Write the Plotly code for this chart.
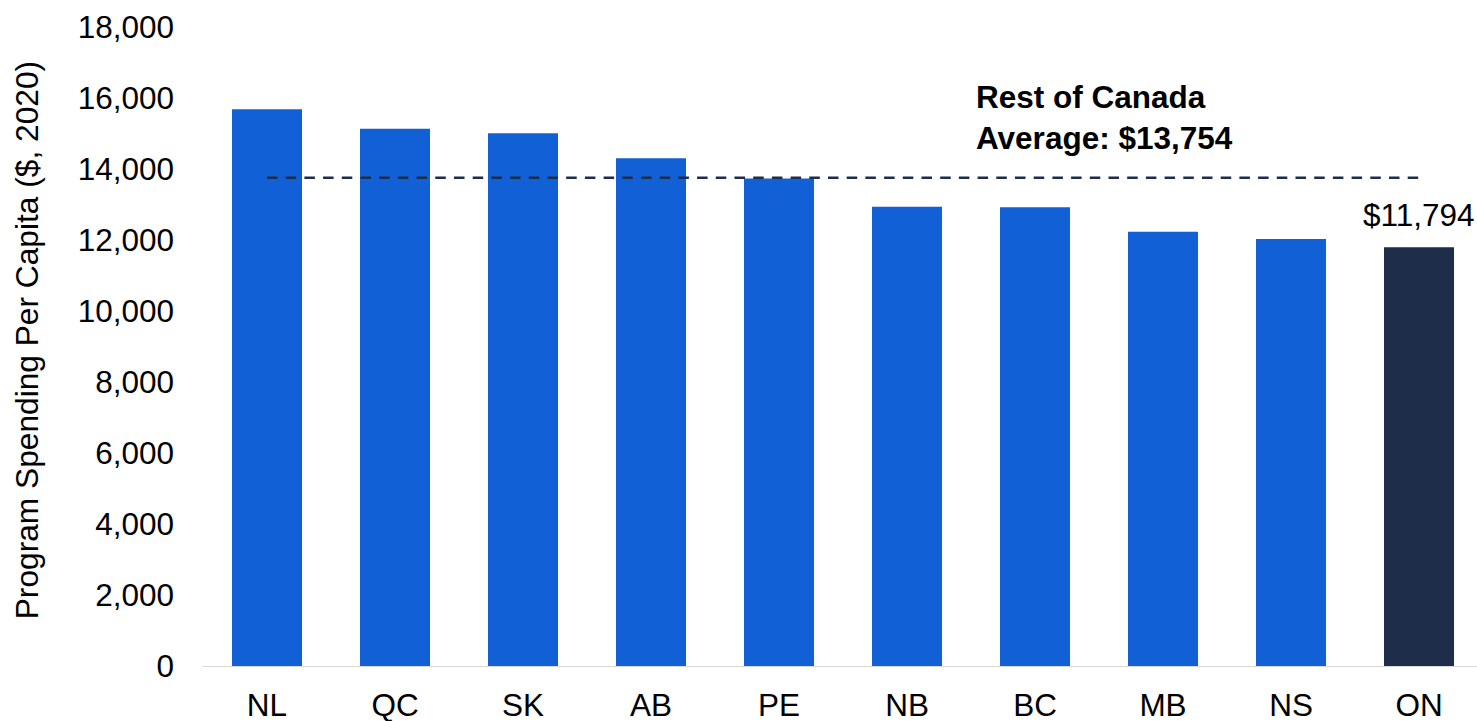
import plotly.graph_objects as go

provinces = ["NL", "QC", "SK", "AB", "PE", "NB", "BC", "MB", "NS", "ON"]
spending = [15680, 15135, 15005, 14300, 13730, 12940, 12920, 12235, 12030, 11794]
rest_of_canada_avg = 13754
y_ticks = [0, 2000, 4000, 6000, 8000, 10000, 12000, 14000, 16000, 18000]

BLUE = "#1160D6"
NAVY = "#1E2D4A"
FONT = "Liberation Sans, Arial, sans-serif"
FS = 31.5

colors = [NAVY if p == "ON" else BLUE for p in provinces]

fig = go.Figure()
fig.add_trace(go.Bar(
    x=provinces, y=spending, marker=dict(color=colors, line=dict(width=0)),
    width=0.547, showlegend=False, hoverinfo="x+y",
))
fig.add_trace(go.Scatter(
    x=[provinces[0], provinces[-1]], y=[rest_of_canada_avg, rest_of_canada_avg],
    mode="lines", line=dict(color=NAVY, width=2.5, dash="10.5px,8.2px"),
    showlegend=False, hoverinfo="skip",
))

fig.add_annotation(
    x=provinces[-1], y=spending[-1], xref="x", yref="y",
    text="$" + f"{spending[-1]:,}", showarrow=False,
    yanchor="bottom", yshift=12,
    font=dict(family=FONT, size=FS, color="#000000"),
)
fig.add_annotation(
    x=(974 - 203) / 1274, y=15440, xref="paper", yref="y",
    text="<b>Rest of Canada</b><br><b>Average: $" + f"{rest_of_canada_avg:,}" + "</b>",
    showarrow=False, xanchor="left", yanchor="middle", align="left",
    font=dict(family=FONT, size=FS, color="#000000"),
)
fig.add_annotation(
    x=-0.138, y=0.51, xref="paper", yref="paper",
    text="Program Spending Per Capita ($, 2020)", showarrow=False,
    textangle=-90, xanchor="center", yanchor="middle",
    font=dict(family=FONT, size=31.7, color="#000000"),
)

fig.update_layout(
    width=1477, height=721,
    margin=dict(l=203, r=0, t=27, b=55),
    plot_bgcolor="white", paper_bgcolor="white",
    font=dict(family=FONT, size=FS, color="#000000"),
    bargap=0.453,
    xaxis=dict(
        range=[-0.5, 9.453], showgrid=False, zeroline=False,
        showline=True, linecolor="#D9D9D9", linewidth=1.3,
        ticks="", ticklabelstandoff=11, automargin=False,
        tickfont=dict(family=FONT, size=FS, color="#000000"),
    ),
    yaxis=dict(
        range=[0, 18000], tickvals=y_ticks, tickformat=",",
        showgrid=False, zeroline=False, showline=False,
        ticks="", ticklabelstandoff=28, automargin=False,
        tickfont=dict(family=FONT, size=FS, color="#000000"),
    ),
)

fig.write_html(
    "out.html",
    config={"displayModeBar": False},
    post_script="document.body.style.margin='0';document.body.style.overflow='hidden';",
)
